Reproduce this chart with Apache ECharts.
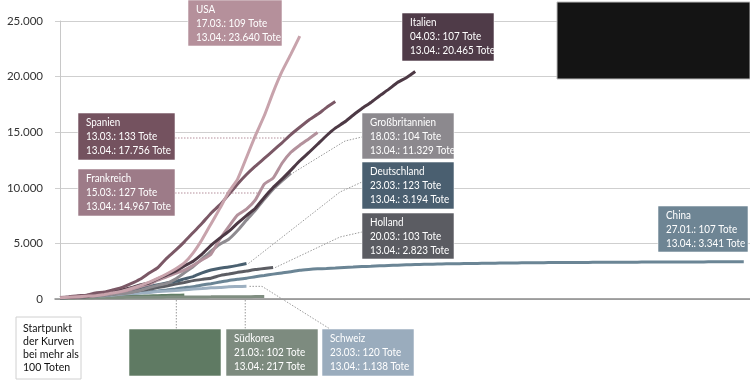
<!DOCTYPE html>
<html><head><meta charset="utf-8">
<script src="https://cdn.jsdelivr.net/npm/echarts@6/dist/echarts.min.js"></script>
<style>html,body{margin:0;padding:0;background:#fff}#c{width:750px;height:388px}</style>
</head><body><div id="c"></div>
<script>
// ---- data (deaths per day since reaching ~100 deaths) ----
const yTicks = [0, 5000, 10000, 15000, 20000, 25000];
const usa = [109,150,206,255,301,413,555,706,942,1209,1500,1850,2250,2700,3250,4150,5350,6750,8150,9619,10783,12722,14695,16478,18586,20463,22020,23640];
const spain = [133,195,289,342,533,623,830,1043,1375,1772,2311,2808,3647,4365,5138,5982,6803,7716,8464,9387,10348,11198,11947,12641,13341,14045,14792,15447,16081,16606,17209,17756];
const italy = [107,148,197,233,366,463,631,827,1016,1266,1441,1809,2158,2503,2978,3405,4032,4825,5476,6077,6820,7503,8165,9134,10023,10779,11591,12428,13155,13915,14681,15362,15887,16523,17127,17669,18279,18849,19468,19899,20465];
const france = [127,148,175,264,372,450,562,674,860,1100,1331,1696,1995,2314,2606,3024,3523,4032,5387,6507,7560,8078,8911,10328,10869,12210,13197,13832,14393,14967];
const uk = [104,144,177,233,281,335,422,465,578,759,1019,1228,1408,1789,2352,2921,3605,4313,4934,5373,6159,7097,7978,8958,9875,10612,11329];
const germany = [123,157,206,267,342,433,533,645,775,920,1107,1275,1444,1584,1810,2016,2349,2607,2767,2873,3022,3194];
const holland = [103,136,179,213,276,356,434,546,639,771,864,1039,1173,1339,1487,1651,1766,1867,2101,2248,2396,2511,2643,2737,2823];
const china = [107,132,170,213,259,304,361,425,490,562,636,722,811,908,1016,1113,1259,1380,1523,1665,1770,1868,2004,2118,2236,2345,2442,2592,2663,2715,2744,2788,2835,2870,2912,2943,2981,3012,3042,3070,3097,3119,3136,3158,3169,3176,3189,3199,3213,3226,3237,3245,3249,3253,3259,3274,3274,3281,3285,3291,3296,3299,3304,3308,3309,3316,3322,3326,3330,3333,3335,3335,3337,3339,3340,3343,3343,3341];
const swiss = [120,153,191,231,264,300,359,433,488,536,591,666,715,765,821,895,948,1002,1036,1106,1120,1138];
const korea = [102,104,111,120,126,131,139,144,152,158,162,165,169,174,177,183,186,192,200,204,208,211,214,217];
const unnamed = [100,115,128,146,160,178,196,214,236,252,275,298,318,336,355];

const names = ['USA','Spanien','Italien','Frankreich','Großbritannien','Deutschland','Holland','China','Schweiz','Südkorea',''];
const startDates = ['17.03.','13.03.','04.03.','15.03.','18.03.','23.03.','20.03.','27.01.','23.03.','21.03.',''];
const endDate = '13.04.';
const seriesData = [usa, spain, italy, france, uk, germany, holland, china, swiss, korea, unnamed];

// ---- styles ----
const lineColors = ['#c8a3ac','#7b5866','#4d3945','#b3919c','#8e8b90','#4a6070','#5c5d63','#6b8595','#9db0c1','#808e81','#627e66'];
const boxColors  = ['#b5909b','#74525f','#4f3b48','#9d7b88','#8c898e','#4a5f70','#5b5c62','#6e8594','#9aacbd','#7d8b7f','#5f7a63'];
const boxPos = [[188,0,94,46],[78,113,97,47],[402,13,92,48],[78,169,97,47],[362,113,92,46],[362,162,92,47],[362,213,92,46],[658,206,90,46],[322,329,92,47],[226,329,92,47],[129,329,92,47]];
const drawOrder = [7,10,9,8,6,5,4,3,2,1,0];
const FONT = 'Lato, "Open Sans", sans-serif';

function fmt(v){ return String(v).replace(/\B(?=(\d{3})+(?!\d))/g,'.'); }

const chart = echarts.init(document.getElementById('c'), null, {renderer:'canvas'});
const series = drawOrder.map(i => ({
  type:'line', name: names[i] || 'x', showSymbol:false, symbol:'none', smooth:0.15,
  data: seriesData[i].map((v,k)=>[k,v]),
  lineStyle:{color:lineColors[i], width:3},
  itemStyle:{color:lineColors[i]}, silent:true, animation:false
}));

chart.setOption({
  animation:false,
  grid:{left:55, right:0, top:21, bottom:89, containLabel:false},
  xAxis:{type:'value', min:-0.563, max:77.7, axisLine:{show:true, onZero:true, lineStyle:{color:'#8a8a8a', width:1.5}},
    axisTick:{show:false}, axisLabel:{show:false}, splitLine:{show:false}},
  yAxis:{type:'value', min:yTicks[0], max:yTicks[yTicks.length-1], interval:5000,
    axisLine:{show:true, lineStyle:{color:'#c8c8c8'}}, axisTick:{show:false},
    axisLabel:{formatter:v=>fmt(v), color:'#333', fontFamily:FONT, fontSize:11.5, margin:12},
    splitLine:{lineStyle:{color:'#cfcfcf', width:1}}},
  series: series
});

function px(arr, k, v){ return chart.convertToPixel({xAxisIndex:0,yAxisIndex:0},[k,v]); }
function lastPx(i){ const a = seriesData[i]; return px(a, a.length-1, a[a.length-1]); }

const g = [];
// leaders
const dotted = (pts, color) => ({type:'polyline', shape:{points:pts}, style:{stroke:color||'#9a9a9a', lineWidth:1, lineDash:[1.5,1.5], fill:null}, z:5});
g.push(dotted([[175,138],[285,138]], '#b48f9b'));
g.push(dotted([[175,193],[258,193]], '#b48f9b'));
let p = lastPx(4); g.push(dotted([[p[0]+2,p[1]],[345,141],[362,137]]));
p = lastPx(5); g.push(dotted([[p[0]+2,p[1]],[340,192],[362,182]]));
p = lastPx(6); g.push(dotted([[p[0]+2,p[1]],[340,237],[362,232]]));
p = lastPx(8); g.push(dotted([[p[0]+3,p[1]],[262,p[1]],[330,329]]));
p = lastPx(9); g.push(dotted([[p[0]-19,300],[p[0]-19,329]]));
p = lastPx(10); g.push(dotted([[p[0]-8,300],[p[0]-8,329]]));

const SX = 0.86;
// label boxes
for (let i=0;i<names.length;i++){
  const [x,y,w,h] = boxPos[i];
  const a = seriesData[i];
  g.push({type:'rect', shape:{x:x,y:y,width:w,height:h}, style:{fill:boxColors[i], stroke:'rgba(255,255,255,0.55)', lineWidth:1}, z:10});
  if (names[i]) {
    const txt = names[i] + '\n' + startDates[i] + ': ' + fmt(a[0]) + ' Tote\n' + endDate + ': ' + fmt(a[a.length-1]) + ' Tote';
    g.push({type:'text', x:x+8, y:y+2.5, scaleX:SX, scaleY:1,
      style:{x:0, y:0, text:txt, fill:'#ffffff', font:'11.5px ' + FONT, lineHeight:14, verticalAlign:'top', align:'left'}, z:11});
  }
}
// start point note
g.push({type:'rect', shape:{x:16,y:317,width:65,height:62}, style:{fill:'#fff', stroke:'#d0d0d0', lineWidth:1}, z:10});
g.push({type:'text', x:23, y:321.5, scaleX:0.88, scaleY:1,
  style:{x:0, y:0, text:'Startpunkt\nder Kurven\nbei mehr als\n100 Toten', fill:'#111', font:'12px ' + FONT, lineHeight:13, verticalAlign:'top'}, z:11});
// black box top right
g.push({type:'rect', shape:{x:557,y:2,width:193,height:77}, style:{fill:'#141414', stroke:'#bdbdbd', lineWidth:1}, z:10});

chart.setOption({graphic:{elements:g}});
</script></body></html>
